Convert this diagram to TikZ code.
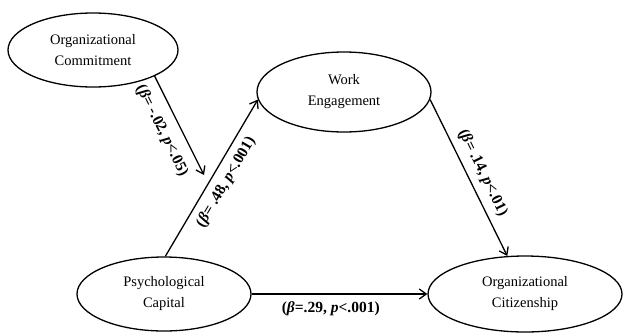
\documentclass[tikz,border=0pt]{standalone}
\usepackage{fontspec}
\setmainfont{Liberation Serif}
\usetikzlibrary{shapes.geometric,arrows.meta}
\begin{document}
\begin{tikzpicture}[x=1pt,y=-1pt,
  ell/.style={ellipse, draw, line width=1.3pt, align=center,
    font=\fontsize{14.5}{21}\selectfont, inner sep=0pt},
  conn/.style={line width=1.3pt, -{Straight Barb[length=7pt,width=10pt]}},
  lab/.style={font=\bfseries\fontsize{15.5}{17}\selectfont, sloped, inner sep=7pt}]
\useasboundingbox (0,0) rectangle (624,333);
\node[ell, minimum width=170pt, minimum height=74pt] (oc) at (93,50) {Organizational\\Commitment};
\node[ell, minimum width=174pt, minimum height=80pt] (we) at (344,92) {Work\\Engagement};
\node[ell, minimum width=174pt, minimum height=74pt] (pc) at (164,294) {Psychological\\Capital};
\node[ell, minimum width=194pt, minimum height=76pt] (ocit) at (525,294) {Organizational\\Citizenship};
\coordinate (tip) at (204,175);
\draw[conn] (oc.-23) -- (tip)
  node[lab, below, pos=0.47, inner sep=10pt] {(\textit{β}= -.02, \textit{p}<.05)};
\draw[conn] (pc.88) -- (we.185)
  node[lab, below, pos=0.52] {(\textit{β}= .48, \textit{p}<.001)};
\draw[conn] (we.-5) -- (ocit.115)
  node[lab, above, pos=0.51] {(\textit{β}= .14, \textit{p}<.01)};
\draw[conn] (pc.east) -- (ocit.west)
  node[lab, below, pos=0.45] {(\textit{β}=.29, \textit{p}<.001)};
\end{tikzpicture}
\end{document}
